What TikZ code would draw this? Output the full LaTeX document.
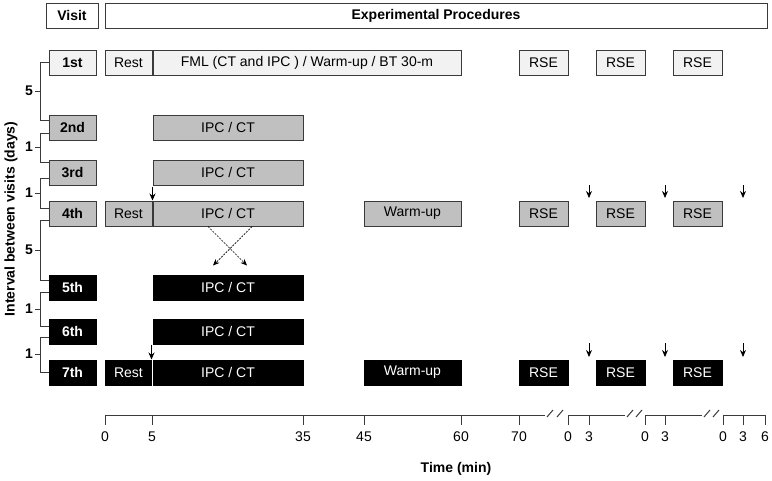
\documentclass[tikz,border=0pt]{standalone}
\usepackage{fontspec}
\setmainfont{Liberation Sans}
\usetikzlibrary{arrows.meta,calc}
\definecolor{lightfill}{HTML}{F2F2F2}
\definecolor{midfill}{HTML}{C0C0C0}
\definecolor{edge}{HTML}{3A3A3A}
\begin{document}
\begin{tikzpicture}[x=1pt,y=-1pt,
  font=\fontsize{14}{16}\selectfont,
  box/.style={draw=edge, line width=1pt, inner sep=0pt, minimum height=25pt},
  lt/.style={box, fill=lightfill},
  md/.style={box, fill=midfill},
  dk/.style={box, fill=black, draw=black, text=white},
  hd/.style={box, fill=white, font=\fontsize{14}{16}\selectfont\bfseries},
  vis/.style={minimum width=47pt, font=\fontsize{14}{16}\selectfont\bfseries},
  rest/.style={minimum width=47pt},
  ipc/.style={minimum width=150pt},
  wup/.style={minimum width=97pt},
  rse/.style={minimum width=49pt},
  dn/.style={-{Stealth[length=7pt,width=6pt]}, line width=0.9pt, draw=black},
  cross/.style={-{Stealth[length=6.5pt,width=5.5pt]}, line width=0.7pt, dash pattern=on 2pt off 1.2pt, draw=black},
  ax/.style={line width=1pt, draw=edge},
  bold/.style={font=\fontsize{14}{16}\selectfont\bfseries},
  lab/.style={inner sep=0pt}
]
\useasboundingbox (0,0) rectangle (772,480);

% headers
\node[hd, minimum width=52pt] (hv) at (72,15.5) {Visit};
\node[hd, minimum width=662pt] (hx) at (436,15.5) {Experimental Procedures};

% row 1
\node[lt, vis] (v1) at (72.5,62.5) {1st};
\node[lt, rest] (r1) at (128.5,62.5) {Rest};
\node[lt, minimum width=308pt] (f1) at (307,62.5) {FML (CT and IPC ) / Warm-up / BT 30-m};
\node[lt, rse] (s11) at (543.5,62.5) {RSE};
\node[lt, rse] (s12) at (620.5,62.5) {RSE};
\node[lt, rse] (s13) at (697.5,62.5) {RSE};

% row 2
\node[md, vis] (v2) at (72.5,127.5) {2nd};
\node[md, ipc] (i2) at (228,127.5) {IPC / CT};

% row 3
\node[md, vis] (v3) at (72.5,172.5) {3rd};
\node[md, ipc] (i3) at (228,172.5) {IPC / CT};

% row 4
\node[md, vis] (v4) at (72.5,213.5) {4th};
\node[md, rest] (r4) at (128.5,213.5) {Rest};
\node[md, ipc] (i4) at (228,213.5) {IPC / CT};
\node[md, wup] (w4) at (412.5,213.5) {Warm-up};
\node[md, rse] (s41) at (543.5,213.5) {RSE};
\node[md, rse] (s42) at (620.5,213.5) {RSE};
\node[md, rse] (s43) at (697.5,213.5) {RSE};

% row 5
\node[dk, vis] (v5) at (72.5,287.5) {5th};
\node[dk, ipc] (i5) at (228,287.5) {IPC / CT};

% row 6
\node[dk, vis] (v6) at (72.5,331.5) {6th};
\node[dk, ipc] (i6) at (228,331.5) {IPC / CT};

% row 7
\node[dk, vis] (v7) at (72.5,372.5) {7th};
\node[dk, rest] (r7) at (128.5,372.5) {Rest};
\node[dk, ipc] (i7) at (228,372.5) {IPC / CT};
\node[dk, wup] (w7) at (412.5,372.5) {Warm-up};
\node[dk, rse] (s71) at (543.5,372.5) {RSE};
\node[dk, rse] (s72) at (620.5,372.5) {RSE};
\node[dk, rse] (s73) at (697.5,372.5) {RSE};
\draw[white, line width=0.8pt] (r7.north east) -- (r7.south east);

% down arrows
\draw[dn] ($(i4.north west)+(0,-14)$) -- (i4.north west);
\draw[dn] ($(i7.north west)+(-1,-15)$) -- ($(i7.north west)+(-1,0)$);
\foreach \x in {589,665,743}{
  \draw[dn] (\x,185) -- (\x,198);
  \draw[dn] (\x,343) -- (\x,357);
}

% crossing arrows
\draw[cross] ($(i4.south)+(-20,0)$) -- ($(i5.north)+(19,-9)$);
\draw[cross] ($(i4.south)+(24,0)$) -- ($(i5.north)+(-15,-9)$);

% left brackets
\draw[ax] ($(v1.west)+(0,-0.5)$) -- ++(-8,0) |- ($(v2.west)+(0,-7.5)$);
\draw[ax] ($(v2.west)+(0,5.5)$) -- ++(-8,0) |- ($(v3.west)+(0,-10.5)$);
\draw[ax] ($(v3.west)+(0,5.5)$) -- ++(-8,0) |- ($(v4.west)+(0,-5.5)$);
\draw[ax] ($(v4.west)+(0,6.5)$) -- ++(-8,0) |- ($(v5.west)+(0,-7.5)$);
\draw[ax] ($(v5.west)+(0,4.5)$) -- ++(-8,0) |- ($(v6.west)+(0,-5.5)$);
\draw[ax] ($(v6.west)+(0,5.5)$) -- ++(-8,0) |- ($(v7.west)+(0,-0.5)$);
\foreach \y/\t in {91/5,147/1,193/1,250/5,309/1,354/1}{
  \draw[ax] (41,\y) -- (35,\y) node[left, inner sep=1.5pt, bold] {\t};
}
\node[rotate=90, bold] (ylab) at (11,219) {Interval between visits (days)};

% time axis
\draw[ax] (105,425) -- (105,415) -- (545,415);
\foreach \x/\t in {105/0,152/5,303/35,364/45,461/60,519/70}{
  \draw[ax] (\x,415) -- (\x,425);
  \node[lab] at (\x,437) {\t};
}
\draw[ax] (547,417) -- (553,410);
\draw[ax] (557,417) -- (563,410);
\draw[ax] (568,425) -- (568,415) -- (625,415);
\draw[ax] (589,415) -- (589,425);
\node[lab] at (568,437) {0};
\node[lab] at (589,437) {3};
\draw[ax] (627,417) -- (633,410);
\draw[ax] (636,417) -- (642,410);
\draw[ax] (645,425) -- (645,415) -- (702,415);
\draw[ax] (665,415) -- (665,425);
\node[lab] at (645,437) {0};
\node[lab] at (665,437) {3};
\draw[ax] (704,417) -- (710,410);
\draw[ax] (713,417) -- (719,410);
\draw[ax] (723,425) -- (723,415) -- (765,415) -- (765,425);
\draw[ax] (743,415) -- (743,425);
\node[lab] at (723,437) {0};
\node[lab] at (743,437) {3};
\node[lab] at (765,437) {6};
\node[bold] (tlab) at (456,469) {Time (min)};
\end{tikzpicture}
\end{document}
